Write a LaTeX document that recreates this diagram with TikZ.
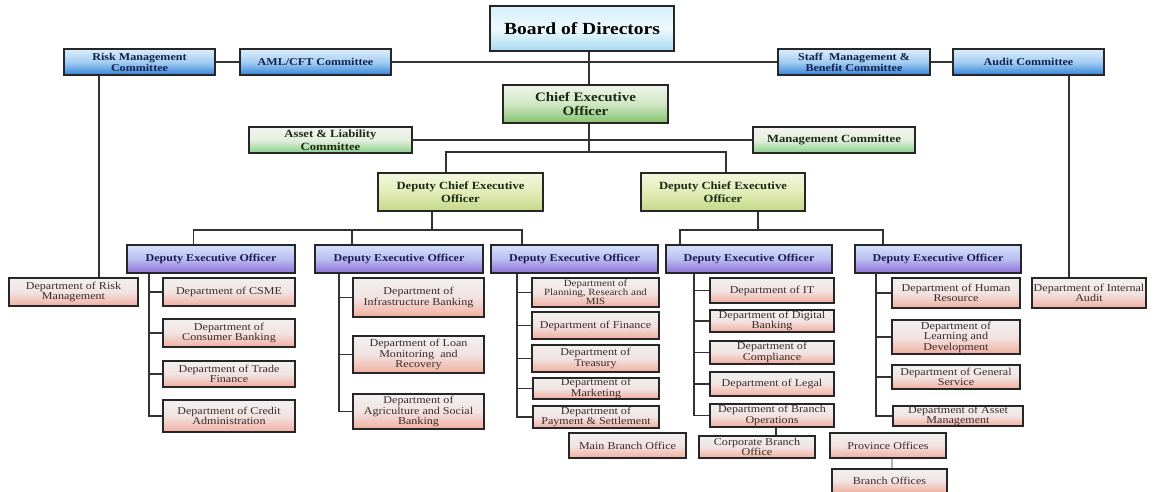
\documentclass[tikz,border=0pt]{standalone}
\usepackage{fontspec}
\setmainfont{Liberation Serif}[FakeStretch=1.15]
\definecolor{boxline}{HTML}{262626}
\definecolor{connc}{HTML}{333333}
\definecolor{bluetop}{HTML}{DCEEFC}
\definecolor{bluemid}{HTML}{A3CDF2}
\definecolor{bluebot}{HTML}{3583D8}
\definecolor{boardtop}{HTML}{D4EFFA}
\definecolor{boardmid}{HTML}{EEF9FD}
\definecolor{boardbot}{HTML}{A7DBF1}
\definecolor{ceotop}{HTML}{EEF5EA}
\definecolor{ceomid}{HTML}{CFE6C4}
\definecolor{ceobot}{HTML}{86C16E}
\definecolor{gctop}{HTML}{F4F4F0}
\definecolor{gcmid}{HTML}{E3EFDD}
\definecolor{gcbot}{HTML}{8ACF86}
\definecolor{dctop}{HTML}{F4F7DE}
\definecolor{dcmid}{HTML}{E2ECB7}
\definecolor{dcbot}{HTML}{C3D887}
\definecolor{deotop}{HTML}{D3E3FA}
\definecolor{deomid}{HTML}{B9BDF0}
\definecolor{deobot}{HTML}{8E70D6}
\definecolor{dptop}{HTML}{F2F0F0}
\definecolor{dpmid}{HTML}{F1E3E1}
\definecolor{dpbot}{HTML}{F2AE9F}
\definecolor{bluetxt}{HTML}{13224A}
\definecolor{greentxt}{HTML}{1B2A14}
\definecolor{deotxt}{HTML}{1C1C52}
\definecolor{dptxt}{HTML}{3A2C2C}
\begin{document}
\begin{tikzpicture}[x=1pt,y=-1pt,
  sz/.style 2 args={minimum width=#1pt, minimum height=#2pt},
  box/.style={draw=boxline, line width=1.1pt, inner sep=0pt, align=center},
  board/.style={box, top color=boardtop, bottom color=boardbot, middle color=boardmid,
     font=\bfseries\fontsize{17}{18}\selectfont, text=black},
  bluec/.style={box, top color=bluetop, bottom color=bluebot, middle color=bluemid,
     font=\bfseries\fontsize{10.5}{11}\selectfont, text=bluetxt},
  ceobox/.style={box, top color=ceotop, bottom color=ceobot, middle color=ceomid,
     font=\bfseries\fontsize{13}{13.5}\selectfont, text=greentxt},
  greenc/.style={box, top color=gctop, bottom color=gcbot, middle color=gcmid,
     font=\bfseries\fontsize{11}{12.5}\selectfont, text=greentxt},
  dceo/.style={box, top color=dctop, bottom color=dcbot, middle color=dcmid,
     font=\bfseries\fontsize{11}{12.5}\selectfont, text=greentxt},
  deo/.style={box, top color=deotop, bottom color=deobot, middle color=deomid,
     font=\bfseries\fontsize{10.5}{11}\selectfont, text=deotxt},
  dept/.style={box, top color=dptop, bottom color=dpbot, middle color=dpmid,
     font=\fontsize{10.5}{10.5}\selectfont, text=dptxt},
  conn/.style={draw=connc, line width=1.3pt},
  faint/.style={draw=black!30, line width=1.1pt}]
\useasboundingbox (0,0) rectangle (1154,491);
\clip (0,0) rectangle (1154,491);
\fill[white] (0,0) rectangle (1154,491);

% top level
\node[board, sz={184}{45}] (board) at (582,28.5) {Board of Directors};
\node[bluec, sz={151}{26}] (risk) at (139.5,62) {Risk Management\\Committee};
\node[bluec, sz={151}{26}] (aml) at (315.5,62) {AML/CFT Committee};
\node[bluec, sz={152}{26}] (staff) at (854,62) {Staff\ \ Management \&\\Benefit Committee};
\node[bluec, sz={151}{26}] (audit) at (1028.5,62) {Audit Committee};
\node[ceobox, sz={165}{38}] (ceo) at (585.5,104) {Chief Executive\\Officer};
\node[greenc, sz={163}{26}] (alco) at (330.5,140) {Asset \& Liability\\Committee};
\node[greenc, sz={162}{26}] (mc) at (834,140) {Management Committee};
\node[dceo, sz={165}{38}] (dceoL) at (460.5,192) {Deputy Chief Executive\\Officer};
\node[dceo, sz={164}{38}] (dceoR) at (723,192) {Deputy Chief Executive\\Officer};

% deputy executive officers
\node[deo, sz={168}{28}] (deo1) at (211,259) {Deputy Executive Officer};
\node[deo, sz={168}{28}] (deo2) at (399,259) {Deputy Executive Officer};
\node[deo, sz={167}{28}] (deo3) at (574.5,259) {Deputy Executive Officer};
\node[deo, sz={166}{28}] (deo4) at (749,259) {Deputy Executive Officer};
\node[deo, sz={166}{28}] (deo5) at (938,259) {Deputy Executive Officer};

% side departments
\node[dept, sz={129}{28}] (drisk) at (73.5,292) {Department of Risk\\Management};
\node[dept, sz={114}{30}] (daudit) at (1089,293) {Department of Internal\\Audit};

% DEO1 departments
\node[dept, sz={132}{28}] (csme) at (229,292) {Department of CSME};
\node[dept, sz={132}{28}] (cons) at (229,333) {Department of\\Consumer Banking};
\node[dept, sz={132}{26}] (trade) at (229,374) {Department of Trade\\Finance};
\node[dept, sz={132}{32}] (credit) at (229,416) {Department of Credit\\Administration};

% DEO2 departments
\node[dept, sz={131}{39}] (infra) at (418.5,297.5) {Department of\\Infrastructure Banking};
\node[dept, sz={131}{37}] (loan) at (418.5,354.5) {Department of Loan\\Monitoring\ \ and\\Recovery};
\node[dept, sz={131}{35}] (agri) at (418.5,411.5) {Department of\\Agriculture and Social\\Banking};

% DEO3 departments
\node[dept, sz={127}{29}, font=\fontsize{9.5}{9}\selectfont] (plan) at (595.5,292.5) {Department of\\Planning, Research and\\MIS};
\node[dept, sz={127}{27}] (fin) at (595.5,325.5) {Department of Finance};
\node[dept, sz={127}{27}] (treas) at (595.5,358.5) {Department of\\Treasury};
\node[dept, sz={126}{21}, font=\fontsize{10.5}{10.2}\selectfont] (mkt) at (596,388.5) {Department of\\Marketing};
\node[dept, sz={126}{22}, font=\fontsize{10.5}{10.2}\selectfont] (pay) at (596,417) {Department of\\Payment \& Settlement};
\node[dept, sz={117}{25}] (mainb) at (627.5,445.5) {Main Branch Office};

% DEO4 departments
\node[dept, sz={124}{25}] (it) at (772,290.5) {Department of IT};
\node[dept, sz={124}{22}, font=\fontsize{10.5}{10.2}\selectfont] (dig) at (772,321) {Department of Digital\\Banking};
\node[dept, sz={124}{23}, font=\fontsize{10.5}{10.2}\selectfont] (comp) at (772,352.5) {Department of\\Compliance};
\node[dept, sz={124}{24}] (legal) at (772,384) {Department of Legal};
\node[dept, sz={124}{23}, font=\fontsize{10.5}{10.2}\selectfont] (bops) at (772,415.5) {Department of Branch\\Operations};
\node[dept, sz={116}{22}, font=\fontsize{10.5}{10.2}\selectfont] (corp) at (757,447) {Corporate Branch\\Office};
\node[dept, sz={116}{25}] (prov) at (888,445.5) {Province Offices};
\node[dept, sz={115}{24}] (branch) at (889.5,481) {Branch Offices};

% DEO5 departments
\node[dept, sz={128}{30}] (hr) at (956,293) {Department of Human\\Resource};
\node[dept, sz={128}{34}] (learn) at (956,337) {Department of\\Learning and\\Development};
\node[dept, sz={128}{24}] (gen) at (956,377) {Department of General\\Service};
\node[dept, sz={130}{20}, font=\fontsize{10.5}{10}\selectfont] (asset) at (958,416) {Department of Asset\\Management};

% helper coordinates
\coordinate (tk) at (589,0);
\coordinate (j1L) at (446,152);
\coordinate (j1R) at (726,152);
\coordinate (t2) at (432,0);
\coordinate (j2L) at (193.5,230);
\coordinate (j2M) at (352,230);
\coordinate (j2R) at (522,230);
\coordinate (t3) at (758,0);
\coordinate (j3L) at (680,230);
\coordinate (j3R) at (883,230);
\coordinate (rx) at (99,0);
\coordinate (ax) at (1069,0);
\coordinate (s1) at (149,0);
\coordinate (s2) at (339,0);
\coordinate (s3) at (517,0);
\coordinate (s4) at (694,0);
\coordinate (s5) at (876,0);
\coordinate (bx) at (776,0);
\coordinate (px) at (892,0);

% connectors
\draw[conn] (risk.east) -- (aml.west);
\draw[conn] (aml.east) -- (staff.west);
\draw[conn] (staff.east) -- (audit.west);
\draw[conn] (board.south -| tk) -- (ceo.north -| tk);
\draw[conn] (alco.east) -- (mc.west);
\draw[conn] (ceo.south -| tk) -- (tk |- j1L);
\draw[conn] (dceoL.north -| j1L) -- (j1L) -- (j1R) -- (dceoR.north -| j1R);
\draw[conn] (dceoL.south -| t2) -- (t2 |- j2L);
\draw[conn] (deo1.north -| j2L) -- (j2L) -- (j2R) -- (deo3.north -| j2R);
\draw[conn] (j2M) -- (deo2.north -| j2M);
\draw[conn] (dceoR.south -| t3) -- (t3 |- j3L);
\draw[conn] (deo4.north -| j3L) -- (j3L) -- (j3R) -- (deo5.north -| j3R);
\draw[conn] (risk.south -| rx) -- (drisk.north -| rx);
\draw[conn] (audit.south -| ax) -- (daudit.north -| ax);

\foreach \c in {csme,cons,trade,credit}
  \draw[conn] (deo1.south -| s1) |- (\c.west);
\foreach \c in {infra,loan,agri}
  \draw[conn] (deo2.south -| s2) |- (\c.west);
\foreach \c in {plan,fin,treas,mkt,pay}
  \draw[conn] (deo3.south -| s3) |- (\c.west);
\foreach \c in {it,dig,comp,legal,bops}
  \draw[conn] (deo4.south -| s4) |- (\c.west);
\foreach \c in {hr,learn,gen,asset}
  \draw[conn] (deo5.south -| s5) |- (\c.west);
\draw[conn] (bops.south -| bx) -- (corp.north -| bx);
\draw[faint] (prov.south -| px) -- (branch.north -| px);
\end{tikzpicture}
\end{document}
